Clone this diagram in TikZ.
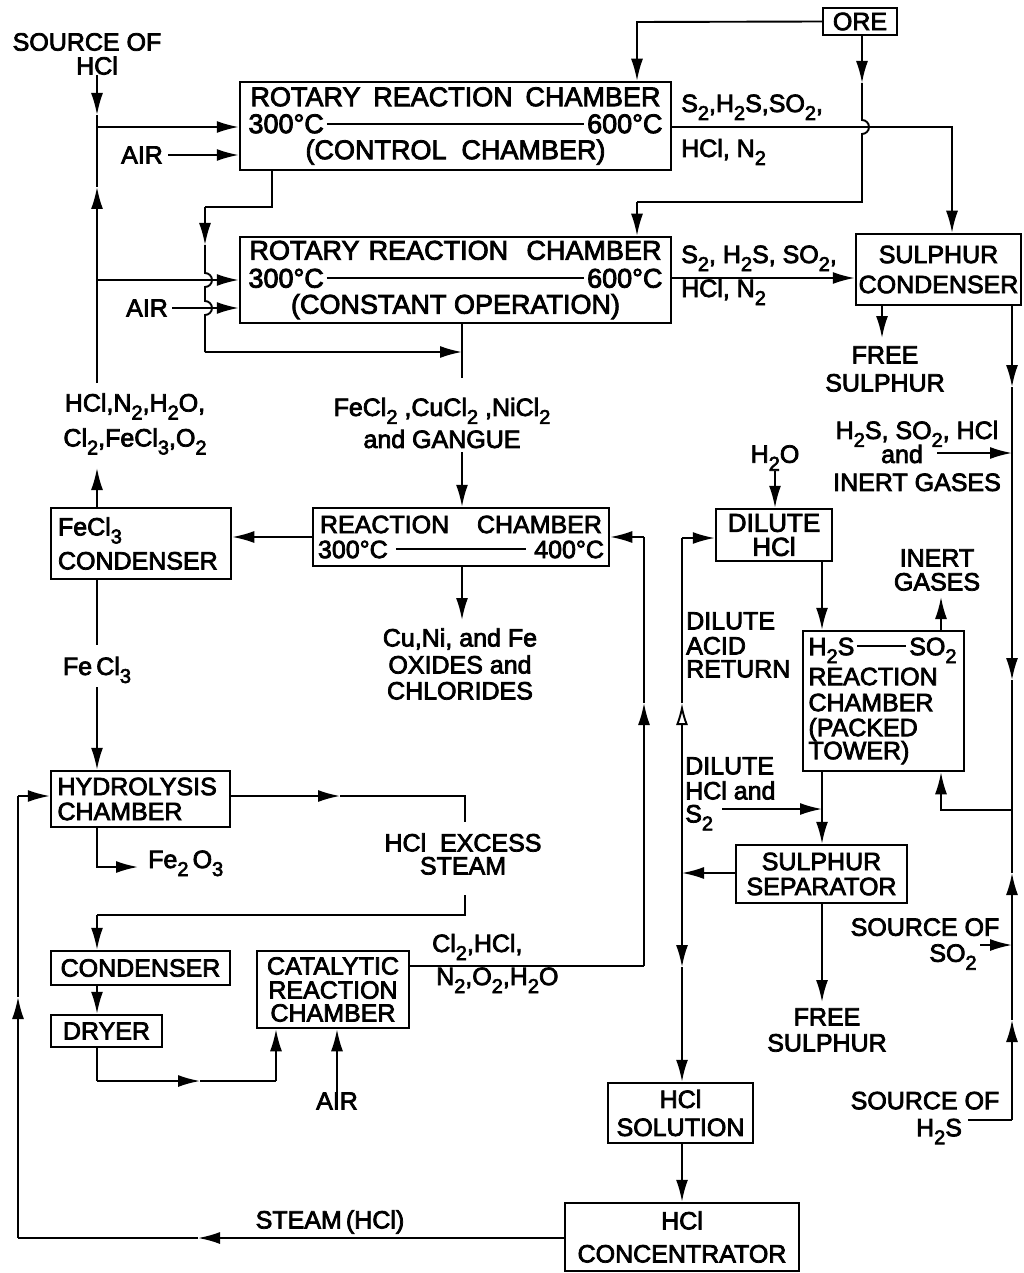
\documentclass[tikz,border=0pt]{standalone}
\usepackage{fontspec}
\usepackage{graphicx}
\setmainfont{Liberation Sans}[BoldFont=Liberation Sans,BoldFeatures={FakeBold=3}]
\usetikzlibrary{arrows.meta}
\newcommand{\lbl}{\fontsize{25}{25}\bfseries\selectfont\lineskiplimit=-100pt\lineskip=0pt}
\newcommand{\lblbig}{\fontsize{27}{26}\bfseries\selectfont\lineskiplimit=-100pt\lineskip=0pt}
\newcommand{\lblmid}{\fontsize{26}{25}\bfseries\selectfont\lineskiplimit=-100pt\lineskip=0pt}
\newcommand{\sbs}[1]{\raisebox{-8pt}{\fontsize{20}{20}\selectfont #1}}
\newcommand{\dashln}{\leaders\hrule height 10.2pt depth -8.4pt\hfill}
\begin{document}
\begin{tikzpicture}[x=1pt,y=-1pt,
  box/.style={draw,line width=2.5pt,inner sep=0pt,align=center,font=\lbl},
  lab/.style={inner sep=0pt,align=center,font=\lbl},
  flow/.style={line width=1.9pt},
  ar/.style={flow,-{Latex[length=22pt,width=12pt]}},
  oar/.style={flow,-{Latex[open,length=22pt,width=12pt]}}]
\fill[white] (0,0) rectangle (1024,1273);
\path[use as bounding box] (0,0) rectangle (1024,1273);

% ---------- boxes ----------
\node[box,font=\lblbig,minimum width=431pt,minimum height=88pt] (ch1) at (455.5,126)
  {\makebox[410pt][s]{ROTARY REACTION CHAMBER}\\[1pt]
   \makebox[414pt]{300°C\hspace{3pt}\dashln\hspace{3pt}600°C}\\
   (CONTROL\ \ CHAMBER)};
\node[box,font=\lblbig,minimum width=431pt,minimum height=86pt] (ch2) at (455.5,280)
  {\makebox[412pt][s]{ROTARY REACTION\ \ CHAMBER}\\[2pt]
   \makebox[414pt]{300°C\hspace{3pt}\dashln\hspace{3pt}600°C}\\
   (CONSTANT\ OPERATION)};
\node[box,minimum width=74pt,minimum height=27pt] (ore) at (860,21.5) {ORE};
\node[box,minimum width=165pt,minimum height=71pt] (scond) at (938.5,269.5)
  {SULPHUR\\[5pt]CONDENSER};
\node[box,minimum width=296pt,minimum height=58pt] (rch) at (461,537)
  {\makebox[282pt][s]{REACTION CHAMBER}\\
   \makebox[286pt]{300°C\hspace{8pt}\dashln\hspace{8pt}400°C}};
\node[box,minimum width=180pt,minimum height=71pt,align=left,text width=166pt] (fecond) at (141,543.5)
  {FeCl\sbs{3}\\[9pt]CONDENSER};
\node[box,font=\lblmid,minimum width=116pt,minimum height=52pt] (dhcl) at (774,535)
  {DILUTE\\[-1pt]HCl};
\node[box,minimum width=161pt,minimum height=140pt,align=left,text width=150pt] (tower) at (883.5,701)
  {\makebox[148pt]{H\sbs{2}S\hspace{3pt}\dashln\hspace{3pt}SO\sbs{2}}\\[5pt]
   REACTION\\[1pt]CHAMBER\\(PACKED\\[-2pt]TOWER)};
\node[box,minimum width=171pt,minimum height=58pt] (ssep) at (821.5,874)
  {SULPHUR\\SEPARATOR};
\node[box,minimum width=145pt,minimum height=60pt] (hsol) at (680.5,1113)
  {HCl\\[3pt]SOLUTION};
\node[box,minimum width=234pt,minimum height=68pt] (hconc) at (682,1237)
  {HCl\\[8pt]CONCENTRATOR};
\node[box,minimum width=179pt,minimum height=56pt,align=left,text width=166pt] (hydro) at (140.5,799)
  {HYDROLYSIS\\CHAMBER};
\node[box,minimum width=179pt,minimum height=34pt] (cond) at (140.5,968) {CONDENSER};
\node[box,minimum width=111pt,minimum height=32pt] (dryer) at (106.5,1031) {DRYER};
\node[box,minimum width=152pt,minimum height=77pt] (cat) at (333,989.5)
  {CATALYTIC\\[-1pt]REACTION\\[-2pt]CHAMBER};

% ---------- labels ----------
\node[lab] (srchcl) at (87,54) {SOURCE OF\\[-1pt]\hspace*{20pt}HCl};
\node[lab] (air1) at (142,155) {AIR};
\node[lab] (air2) at (147,308) {AIR};
\node[lab,anchor=base west] (s1a) at (681,112) {S\sbs{2},H\sbs{2}S,SO\sbs{2},};
\node[lab,anchor=base west] (s1b) at (681,157) {HCl, N\sbs{2}};
\node[lab,anchor=base west] (s2a) at (681,263) {S\sbs{2}, H\sbs{2}S, SO\sbs{2},};
\node[lab,anchor=base west] (s2b) at (681,297) {HCl, N\sbs{2}};
\node[lab] (fs1) at (885,369) {FREE\\[3pt]SULPHUR};
\node[lab] (gases) at (917,456) {H\sbs{2}S, SO\sbs{2}, HCl\\[-1pt]\hspace*{-30pt}and\\[3pt]INERT GASES};
\node[lab] (h2o) at (775,458) {H\sbs{2}O};
\node[lab] (inert) at (937,570) {INERT\\[-1pt]GASES};
\node[lab,align=left,anchor=north west] (dar) at (686,612) {DILUTE\\ACID\\[-2pt]RETURN};
\node[lab] (gas2) at (135,424) {HCl,N\sbs{2},H\sbs{2}O,\\[10pt]Cl\sbs{2},FeCl\sbs{3},O\sbs{2}};
\node[lab] (fecl2) at (442,423) {FeCl\sbs{2} ,CuCl\sbs{2} ,NiCl\sbs{2}\\[7pt]and GANGUE};
\node[lab] (oxides) at (460,664) {Cu,Ni, and Fe\\[2pt]OXIDES and\\[1pt]CHLORIDES};
\node[lab] (fecl3) at (97,670) {Fe\,Cl\sbs{3}};
\node[lab,anchor=base west] (fe2o3) at (148,868) {Fe\sbs{2}\,O\sbs{3}};
\node[lab] (hclex) at (463,854) {HCl\ \ EXCESS\\[-2pt]STEAM};
\node[lab,anchor=base west] (cl2) at (432,952) {Cl\sbs{2},HCl,};
\node[lab,anchor=base west] (n2) at (436,985) {N\sbs{2},O\sbs{2},H\sbs{2}O};
\node[lab] (air3) at (337,1101) {AIR};
\node[lab] (steam) at (330,1222) {STEAM\,(HCl)};
\node[lab,align=left,anchor=north west] (dil2) at (685,757) {DILUTE\\HCl and\\[-2pt]S\sbs{2}};
\node[lab] (fs2) at (827,1030) {FREE\\[1pt]SULPHUR};
\node[lab] (srcso2) at (925,944) {SOURCE OF\\[1pt]\hspace*{56pt}SO\sbs{2}};
\node[lab] (srch2s) at (925,1118) {SOURCE OF\\[2pt]\hspace*{28pt}H\sbs{2}S};

% ---------- coordinates ----------
\coordinate (L1) at (97,127);
\coordinate (L2) at (97,280);
\coordinate (L0) at (97,383);
\coordinate (D1) at (272,207);
\coordinate (D2) at (205,207);
\coordinate (D3) at (205,352);
\coordinate (J3) at (462,352);
\coordinate (O1) at (637,22);
\coordinate (O2) at (862,202);
\coordinate (O3) at (637,202);
\coordinate (C1) at (952,127);
\coordinate (S2y) at (760,278);
\coordinate (FS) at (882,338);
\coordinate (R0) at (1012,305);
\coordinate (R1) at (1012,453);
\coordinate (R2) at (1012,810);
\coordinate (R3) at (1012,945);
\coordinate (R4) at (1012,1120);
\coordinate (G0) at (937,453);
\coordinate (T1) at (941,810);
\coordinate (H0) at (968,1120);
\coordinate (S0) at (980,945);
\coordinate (X822) at (822,0);
\coordinate (DS) at (822,809);
\coordinate (DS0) at (722,809);
\coordinate (M1) at (682,873);
\coordinate (M2) at (682,538);
\coordinate (B1) at (18,1238);
\coordinate (B2) at (18,796);
\coordinate (E1) at (465,796);
\coordinate (E2) at (465,822);
\coordinate (E3) at (465,895);
\coordinate (E4) at (465,915);
\coordinate (E5) at (97,915);
\coordinate (F1) at (97,867);
\coordinate (F2) at (138,867);
\coordinate (K1) at (97,1081);
\coordinate (K2) at (276,1081);
\coordinate (P1) at (644,966);
\coordinate (P2) at (644,537);

% ---------- connectors ----------
% HCl bus on the left
\draw[ar] (srchcl.south -| L1) -- (97,115);
\draw[flow] (97,115) -- (L1);
\draw[flow] (L0) -- (L2);
\draw[ar] (L2) -- (97,187);
\draw[flow] (97,187) -- (L1);
\draw[ar] (L1) -- (ch1.west |- L1);
\draw[ar] (L2) -- (ch2.west |- L2);
\draw[ar] ([xshift=5pt]air1.east) -- (ch1.west |- air1.east);
\draw[ar] ([xshift=4pt]air2.east) -- (ch2.west |- air2.east);
% control chamber bottom outlet
\draw[flow] (ch1.south -| D1) -- (D1) -- (D2);
\draw[ar] (D2) -- (205,245);
\draw[flow] (205,245) -- (205,273) arc(90:-90:7pt) -- (205,301) arc(90:-90:7pt) -- (D3);
\draw[ar] (D3) -- (J3);
\draw[flow] (ch2.south -| J3) -- (J3) -- (462,378);
\draw[ar] (462,452) -- (rch.north -| J3);
% ore feeds
\draw[ar] (ore.west) -- (O1) -- (ch1.north -| O1);
\draw[ar] (ore.south -| O2) -- (862,83);
\draw[flow] (862,83) -- (862,120) arc(90:-90:7pt) -- (O2) -- (O3);
\draw[ar] (O3) -- (ch2.north -| O3);
% gas outlets to sulphur condenser
\draw[ar] (ch1.east |- C1) -- (C1) -- (scond.north -| C1);
\draw[ar] (ch2.east |- S2y) -- (scond.west |- S2y);
\draw[ar] (scond.south -| FS) -- (FS);
% right-hand bus
\draw[ar] (scond.south -| R0) -- (1012,387);
\draw[flow] (1012,387) -- (R1);
\draw[ar] (R1) -- (1012,680);
\draw[flow] (1012,680) -- (R2);
\draw[ar] (G0) -- (R1);
\draw[ar] (R2) -- (T1) -- (tower.south -| T1);
\draw[flow] (H0) -- (R4);
\draw[ar] (R4) -- (1012,1020);
\draw[flow] (1012,1020) -- (R3);
\draw[ar] (R3) -- (1012,873);
\draw[flow] (1012,873) -- (R2);
\draw[ar] (S0) -- (R3);
% dilute HCl and tower
\draw[ar] (h2o.south) -- (h2o.south |- dhcl.north);
\draw[ar] (dhcl.south -| X822) -- (tower.north -| X822);
\draw[ar] (tower.north -| T1) -- (941,597);
\draw[ar] (tower.south -| X822) -- (ssep.north -| X822);
\draw[ar] (DS0) -- (DS);
% sulphur separator
\draw[ar] (ssep.west |- M1) -- (M1);
\draw[oar] (M1) -- (682,703);
\draw[flow] (682,703) -- (M2);
\draw[ar] (M2) -- (dhcl.west |- M2);
\draw[ar] (M1) -- (682,967);
\draw[ar] (682,967) -- (hsol.north -| M1);
\draw[ar] (ssep.south -| X822) -- (822,1002);
\draw[ar] (hsol.south -| M1) -- (hconc.north -| M1);
% steam return
\draw[ar] (hconc.west |- B1) -- (198,1238);
\draw[flow] (198,1238) -- (B1);
\draw[ar] (B1) -- (18,997);
\draw[flow] (18,997) -- (B2);
\draw[ar] (B2) -- (hydro.west |- B2);
% FeCl3 condenser
\draw[ar] (rch.west) -- (fecond.east |- rch.west);
\draw[ar] (rch.south -| J3) -- (462,620);
\draw[ar] (fecond.north -| L1) -- (97,468);
\draw[flow] (fecond.south -| L1) -- (97,645);
\draw[ar] (97,687) -- (hydro.north -| L1);
% hydrolysis
\draw[ar] (hydro.east |- E1) -- (340,796);
\draw[flow] (340,796) -- (E1) -- (E2);
\draw[flow] (E3) -- (E4) -- (E5);
\draw[ar] (E5) -- (cond.north -| E5);
\draw[ar] (hydro.south -| F1) -- (F1) -- (F2);
\draw[ar] (cond.south -| F1) -- (dryer.north -| F1);
\draw[flow] (dryer.south -| K1) -- (K1);
\draw[ar] (K1) -- (200,1081);
\draw[flow] (200,1081) -- (K2);
\draw[ar] (K2) -- (cat.south -| K2);
\draw[ar] (air3.north) -- (air3.north |- cat.south);
% catalytic to reaction chamber
\draw[flow] (cat.east |- P1) -- (P1);
\draw[ar] (P1) -- (644,703);
\draw[flow] (644,703) -- (P2);
\draw[ar] (P2) -- (rch.east |- P2);
\end{tikzpicture}
\end{document}
